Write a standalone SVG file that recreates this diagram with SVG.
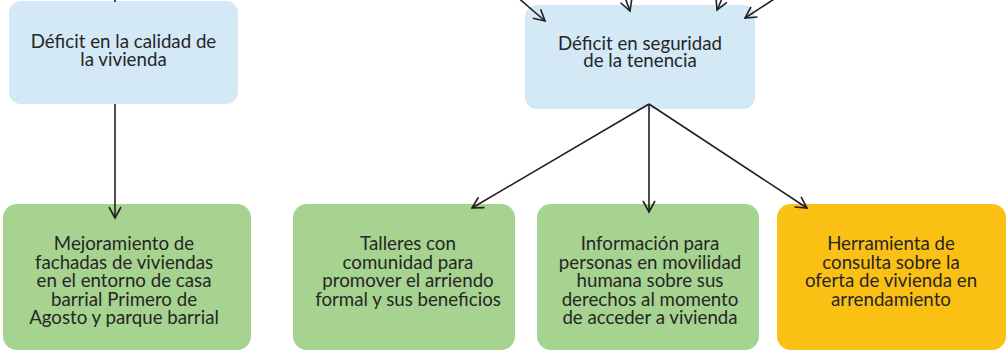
<svg xmlns="http://www.w3.org/2000/svg" width="1006" height="351" viewBox="0 0 1006 351">
<defs>
<style>
.t{font-family:Lato,"Open Sans","Liberation Sans",sans-serif;font-size:18.7px;fill:#262626;text-anchor:middle}
.blue{fill:#d3e9f5}
.green{fill:#a6d38f}
.orange{fill:#fbc014}
.c line{stroke:#231f20;stroke-width:1.6;fill:none}
</style>
<marker id="ah" viewBox="0 0 14 14" refX="12" refY="7" markerWidth="14" markerHeight="14" markerUnits="userSpaceOnUse" orient="auto">
<path d="M1,1 L12,7 L1,13" fill="none" stroke="#231f20" stroke-width="1.6"/>
</marker>
</defs>
<rect width="1006" height="351" fill="#ffffff"/>
<g id="n1">
<rect class="blue" x="9" y="1" width="229" height="103" rx="12"/>
<text class="t" x="123.5" y="48">Déficit en la calidad de</text>
<text class="t" x="123.5" y="66">la vivienda</text>
</g>
<g id="n2">
<rect class="blue" x="525" y="5" width="230" height="104" rx="12"/>
<text class="t" x="640" y="50">Déficit en seguridad</text>
<text class="t" x="640" y="67">de la tenencia</text>
</g>
<g id="n3">
<rect class="green" x="3" y="204" width="248" height="146" rx="14"/>
<text class="t" x="124" y="250">Mejoramiento de</text>
<text class="t" x="124" y="268.5">fachadas de viviendas</text>
<text class="t" x="124" y="287">en el entorno de casa</text>
<text class="t" x="124" y="305.5">barrial Primero de</text>
<text class="t" x="124" y="324">Agosto y parque barrial</text>
</g>
<g id="n4">
<rect class="green" x="293" y="204" width="222" height="146" rx="14"/>
<text class="t" x="408" y="250">Talleres con</text>
<text class="t" x="408" y="268.5">comunidad para</text>
<text class="t" x="408" y="287">promover el arriendo</text>
<text class="t" x="408" y="305.5">formal y sus beneficios</text>
</g>
<g id="n5">
<rect class="green" x="537" y="204" width="222" height="146" rx="14"/>
<text class="t" x="650" y="250">Información para</text>
<text class="t" x="650" y="268.5">personas en movilidad</text>
<text class="t" x="650" y="287">humana sobre sus</text>
<text class="t" x="650" y="305.5">derechos al momento</text>
<text class="t" x="650" y="324">de acceder a vivienda</text>
</g>
<g id="n6">
<rect class="orange" x="777" y="204" width="229" height="146" rx="14"/>
<text class="t" x="891" y="250">Herramienta de</text>
<text class="t" x="891" y="268.5">consulta sobre la</text>
<text class="t" x="891" y="287">oferta de vivienda en</text>
<text class="t" x="891" y="305.5">arrendamiento</text>
</g>
<g class="c" id="connectors">
<line x1="115" y1="-10" x2="115" y2="2"/>
<line x1="115" y1="104" x2="115" y2="218" marker-end="url(#ah)"/>
<line x1="508" y1="-11" x2="545" y2="21" marker-end="url(#ah)"/>
<line x1="623" y1="-8" x2="630" y2="11" marker-end="url(#ah)"/>
<line x1="725" y1="-8" x2="717" y2="10" marker-end="url(#ah)"/>
<line x1="785" y1="-8" x2="745" y2="18" marker-end="url(#ah)"/>
<line x1="649" y1="104" x2="472" y2="208" marker-end="url(#ah)"/>
<line x1="649" y1="104" x2="649" y2="212" marker-end="url(#ah)"/>
<line x1="649" y1="104" x2="807" y2="208" marker-end="url(#ah)"/>
</g>
</svg>
